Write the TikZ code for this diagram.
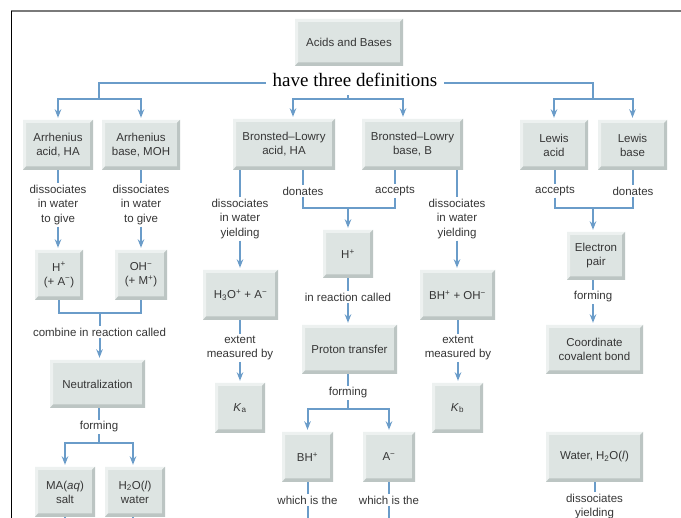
\documentclass[tikz,border=0pt]{standalone}
\usepackage{fontspec}
\setmainfont{Liberation Sans}
\newfontfamily\serifdef{Liberation Serif}
\usetikzlibrary{arrows.meta,calc}
\definecolor{boxfill}{HTML}{DDE4E2}
\definecolor{boxlight}{HTML}{EDF1F0}
\definecolor{boxdark}{HTML}{BCC5C3}
\definecolor{linkblue}{HTML}{6A9CC9}
\definecolor{textgray}{HTML}{363636}
\definecolor{framegray}{HTML}{7A7A7A}
\begin{document}
\begin{tikzpicture}[x=1pt,y=-1pt,
  every node/.style={text=textgray},
  boxst/.style={fill=boxfill, align=center, inner sep=0pt,
    font=\fontsize{11.5}{14}\selectfont,
    path picture={
      \coordinate (pw) at (path picture bounding box.south west);
      \coordinate (pe) at (path picture bounding box.north east);
      \fill[boxlight] (pw) -- (pw |- pe) -- (pe) -- ($(pe)+(-3pt,-3pt)$) -- ($(pw |- pe)+(3pt,-3pt)$) -- ($(pw)+(3pt,3pt)$) -- cycle;
      \fill[boxdark] (pw) -- (pe |- pw) -- (pe) -- ($(pe)+(-3pt,-3pt)$) -- ($(pe |- pw)+(-3pt,3.5pt)$) -- ($(pw)+(3pt,3.5pt)$) -- cycle;
    }},
  lbl/.style={align=center, inner sep=1.5pt, font=\fontsize{11.5}{14.5}\selectfont},
  conn/.style={draw=linkblue, line width=2pt},
  arr/.style={conn, -{Stealth[length=8.5pt,width=6.5pt]}, shorten >=2pt}
]
\useasboundingbox (0,0) rectangle (681,518);
\fill[white] (0,0) rectangle (681,518);
% frame
\draw[framegray, line width=2pt] (11,11.5) -- (681,11.5);
\draw[black, line width=1.5pt] (11.5,11) -- (11.5,518);

% top
\node[boxst, minimum width=108pt, minimum height=47pt] (top) at (349,42.5) {Acids and Bases};
\node[anchor=base, inner xsep=6.5pt, inner ysep=8pt, font=\serifdef\fontsize{19}{22}\selectfont, text=black] (defs) at (355,87) {have three definitions};
\coordinate (jl) at (99,83);
\coordinate (jlb) at (99,99);
\coordinate (jr) at (593,83);
\coordinate (jrb) at (593,99);
\coordinate (jm) at (348,99);

% level 1
\node[boxst, minimum width=70pt, minimum height=50pt] (aa) at (58,145) {Arrhenius\\acid, HA};
\node[boxst, minimum width=78pt, minimum height=50pt] (abase) at (141,145) {Arrhenius\\base, MOH};
\node[boxst, minimum width=102pt, minimum height=51pt] (bla) at (284,144.5) {Bronsted–Lowry\\acid, HA};
\node[boxst, minimum width=101pt, minimum height=51pt] (blb) at (412.5,144.5) {Bronsted–Lowry\\base, B};
\node[boxst, minimum width=68pt, minimum height=50pt] (la) at (554,145) {Lewis\\acid};
\node[boxst, minimum width=69pt, minimum height=50pt] (lb) at (632.5,145) {Lewis\\base};

\draw[conn] (defs.west |- jl) -- (jl) -- (jlb);
\draw[arr] (jlb) -| (aa.north);
\draw[arr] (jlb) -| (abase.north);
\draw[conn] (defs.south -| jm) -- (jm);
\draw[arr] (jm) -| ([xshift=9pt]bla.north);
\draw[arr] (jm) -| ([xshift=-9.5pt]blb.north);
\draw[conn] (defs.east |- jr) -- (jr) -- (jrb);
\draw[arr] (jrb) -| (la.north);
\draw[arr] (jrb) -| (lb.north);

% Arrhenius
\node[lbl] (d1) at (58,205) {dissociates\\in water\\to give};
\node[lbl] (d2) at (141,205) {dissociates\\in water\\to give};
\node[boxst, minimum width=48pt, minimum height=50pt] (hp) at (59,275) {H\textsuperscript{+}\\(+ A\textsuperscript{−})};
\node[boxst, minimum width=52pt, minimum height=50pt] (oh) at (141,275) {OH\textsuperscript{−}\\(+ M\textsuperscript{+})};
\draw[conn] (aa.south) -- (d1.north);
\draw[conn] (abase.south) -- (d2.north);
\draw[arr] (d1.south) -- (d1.south |- hp.north);
\draw[arr] (d2.south) -- (oh.north);
\coordinate (jc) at (99.5,313);
\node[lbl] (comb) at (99.5,332) {combine in reaction called};
\draw[conn] (hp.south) -- (hp.south |- jc) -- (oh.south |- jc) -- (oh.south);
\draw[conn] (jc) -- (comb.north);
\node[boxst, minimum width=95pt, minimum height=48pt] (neu) at (97.5,384) {Neutralization};
\draw[arr] (comb.south) -- (comb.south |- neu.north);
\node[lbl] (form1) at (99,427) {forming};
\draw[conn] (neu.south -| form1.north) -- (form1.north);
\coordinate (jf1) at (99,443);
\draw[conn] (form1.south) -- (jf1);
\node[boxst, minimum width=60pt, minimum height=50pt] (ma) at (65,492) {MA(\textit{aq})\\salt};
\node[boxst, minimum width=60pt, minimum height=50pt] (hw) at (135,492) {H\textsubscript{2}O(\textit{l})\\water};
\draw[arr] (jf1) -| (ma.north);
\draw[arr] (jf1) -| ([xshift=-2pt]hw.north);
\coordinate (e1) at (65,518);
\coordinate (e2) at (133,518);
\draw[conn] (ma.south) -- (e1);
\draw[conn] ([xshift=-2pt]hw.south) -- (e2);

% Bronsted-Lowry
\node[lbl] (d3) at (240,219) {dissociates\\in water\\yielding};
\node[lbl] (d4) at (457,219) {dissociates\\in water\\yielding};
\node[lbl] (don) at (303,191) {donates};
\node[lbl] (acc) at (395,191) {accepts};
\draw[conn] (bla.south -| d3.north) -- (d3.north);
\draw[conn] (blb.south -| d4.north) -- (d4.north);
\draw[conn] (bla.south -| don.north) -- (don.north);
\draw[conn] (blb.south -| acc.north) -- (acc.north);
\node[boxst, minimum width=75pt, minimum height=50pt] (h3o) at (240.5,295) {H\textsubscript{3}O\textsuperscript{+} + A\textsuperscript{−}};
\node[boxst, minimum width=75pt, minimum height=50pt] (bhoh) at (457.5,295) {BH\textsuperscript{+} + OH\textsuperscript{−}};
\draw[arr] (d3.south) -- (d3.south |- h3o.north);
\draw[arr] (d4.south) -- (d4.south |- bhoh.north);
\coordinate (jh) at (348,208);
\draw[conn] (don.south) |- (jh) -| (acc.south);
\node[boxst, minimum width=50pt, minimum height=48pt] (hplus) at (348,254) {H\textsuperscript{+}};
\draw[arr] (jh) -- (hplus.north);
\node[lbl] (irc) at (348,297) {in reaction called};
\draw[conn] (hplus.south) -- (irc.north);
\node[boxst, minimum width=95pt, minimum height=49pt] (pt) at (349.5,349.5) {Proton transfer};
\draw[arr] (irc.south) -- (irc.south |- pt.north);
\node[lbl] (form2) at (348,393) {forming};
\draw[conn] (pt.south -| form2.north) -- (form2.north);
\coordinate (jf2) at (348,409);
\draw[conn] (form2.south) -- (jf2);
\node[boxst, minimum width=51pt, minimum height=50pt] (bhp) at (307.5,457) {BH\textsuperscript{+}};
\node[boxst, minimum width=52pt, minimum height=50pt] (am) at (389,457) {A\textsuperscript{−}};
\draw[arr] (jf2) -| (bhp.north);
\draw[arr] (jf2) -| (am.north);
\node[lbl] (wit1) at (307.5,500) {which is the};
\node[lbl] (wit2) at (389,500) {which is the};
\draw[conn] (bhp.south) -- (wit1.north);
\draw[conn] (am.south) -- (wit2.north);
\coordinate (e3) at (307.5,518);
\coordinate (e4) at (389,518);
\draw[conn] (wit1.south) -- (e3);
\draw[conn] (wit2.south) -- (e4);
\node[lbl] (ext1) at (240,348) {extent\\measured by};
\node[lbl] (ext2) at (458,348) {extent\\measured by};
\draw[conn] (h3o.south -| ext1.north) -- (ext1.north);
\draw[conn] (bhoh.south -| ext2.north) -- (ext2.north);
\node[boxst, minimum width=50pt, minimum height=50pt] (ka) at (240,408) {\textit{K}\textsubscript{a}};
\node[boxst, minimum width=51pt, minimum height=50pt] (kb) at (457.5,408) {\textit{K}\textsubscript{b}};
\draw[arr] (ext1.south) -- (ext1.south |- ka.north);
\draw[arr] (ext2.south) -- (ext2.south |- kb.north);

% Lewis
\node[lbl] (acc2) at (555,191) {accepts};
\node[lbl] (don2) at (633,191) {donates};
\draw[conn] (la.south -| acc2.north) -- (acc2.north);
\draw[conn] (lb.south -| don2.north) -- (don2.north);
\coordinate (je) at (593,208);
\draw[conn] (acc2.south) |- (je) -| (don2.south);
\node[boxst, minimum width=58pt, minimum height=48pt] (ep) at (596,256) {Electron\\pair};
\draw[arr] (je) -- (je |- ep.north);
\node[lbl] (form3) at (593,297) {forming};
\draw[conn] (ep.south -| form3.north) -- (form3.north);
\node[boxst, minimum width=97pt, minimum height=49pt] (ccb) at (594.5,349.5) {Coordinate\\covalent bond};
\draw[arr] (form3.south) -- (form3.south |- ccb.north);
\node[boxst, minimum width=97pt, minimum height=50pt] (water) at (594.5,457) {Water, H\textsubscript{2}O(\textit{l})};
\node[lbl, anchor=north] (d5) at (594.5,492) {dissociates\\yielding};
\draw[conn] (water.south -| d5.north) -- (d5.north);
\end{tikzpicture}
\end{document}
